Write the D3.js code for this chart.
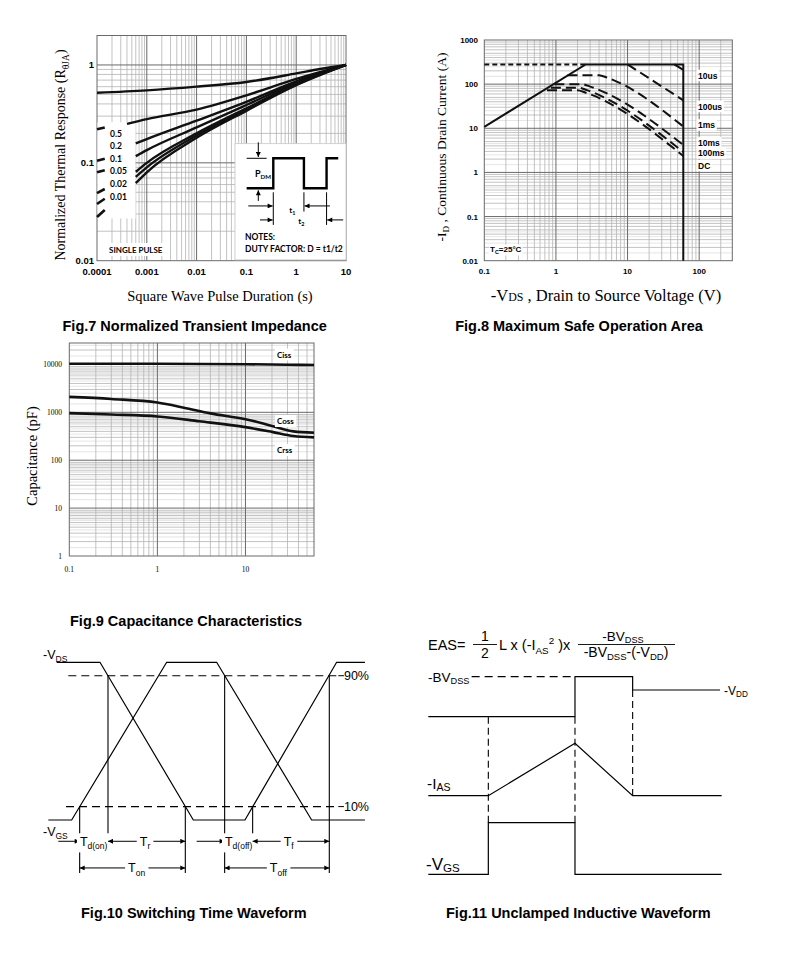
<!DOCTYPE html>
<html>
<head>
<meta charset="utf-8">
<title>MOSFET characteristic curves</title>
<script src="https://cdn.jsdelivr.net/npm/d3@7"></script>
<style>
  body { margin: 0; background: #fff; }
  svg { display: block; }
  .title { font-family: "Liberation Sans", Arial, sans-serif; font-weight: bold; font-size: 14.5px; }
  .tick { font-family: "Liberation Sans", Arial, sans-serif; font-weight: bold; font-size: 8px; }
  .stick { font-family: "Liberation Serif", "Times New Roman", serif; font-size: 7.5px; }
  .serif { font-family: "Liberation Serif", "Times New Roman", serif; font-size: 14.5px; }
  .lbl { font-family: "Liberation Sans", Arial, sans-serif; font-size: 12px; }
  .note { font-family: "Lato", "Liberation Sans", sans-serif; font-weight: bold; font-size: 8px; }
  .wave { fill: none; stroke: #000; stroke-width: 1.2; }
  .curve { fill: none; stroke: #111; stroke-width: 2.6; }
</style>
</head>
<body>
<svg id="page" width="790" height="979"></svg>
<script>
// ---- Fig.7 normalized transient impedance ----
var f7X = [0.0001, 0.001, 0.01, 0.1, 1, 10];
var f7XText = ["0.0001", "0.001", "0.01", "0.1", "1", "10"];
var f7Y = [0.01, 0.1, 1];
var f7YText = ["0.01", "0.1", "1"];
var dutyText = ["0.5", "0.2", "0.1", "0.05", "0.02", "0.01"];
var zthD50 = [[1e-4, 0.52], [1e-3, 0.55], [1e-2, 0.6], [0.1, 0.67], [1, 0.82], [3, 0.91], [10, 1]];
var zthD20 = [[4e-4, 0.25], [1e-3, 0.28], [1e-2, 0.35], [0.1, 0.49], [1, 0.72], [10, 1]];
var zthD10 = [[6e-4, 0.158], [1e-3, 0.175], [1e-2, 0.27], [0.1, 0.42], [1, 0.68], [10, 1]];
var zthD05 = [[6e-4, 0.117], [1e-3, 0.135], [1e-2, 0.23], [0.1, 0.39], [1, 0.66], [10, 1]];
var zthD02 = [[6e-4, 0.081], [1e-3, 0.1], [1e-2, 0.2], [0.1, 0.36], [1, 0.64], [10, 1]];
var zthD01 = [[6e-4, 0.072], [1e-3, 0.09], [1e-2, 0.19], [0.1, 0.35], [1, 0.63], [10, 1]];
var zthSingle = [[6e-4, 0.062], [1e-3, 0.08], [1e-2, 0.18], [0.1, 0.34], [1, 0.62], [10, 1]];
var zthStubs = [[0.22, 0.23], [0.105, 0.11], [0.08, 0.084], [0.049, 0.054], [0.038, 0.043], [0.028, 0.033]];

// ---- Fig.8 safe operating area ----
var f8X = [0.1, 1, 10, 100];
var f8XText = ["0.1", "1", "10", "100"];
var f8Y = [0.01, 0.1, 1, 10, 100, 1000];
var f8YText = ["0.01", "0.1", "1", "10", "100", "1000"];
var soaLimit = [[0.1, 10.8], [2.6, 280], [60, 280], [60, 0.01]];
var soaPkg = [[0.1, 280], [2.6, 280]];
var soa10us = [[45, 280], [60, 210]];
var soa100us = [[10, 280], [60, 43]];
var soa1ms = [[1.45, 160], [4, 160], [5.2, 140], [60, 11]];
var soa10ms = [[0.95, 100], [2.3, 100], [3, 88], [60, 4.2]];
var soa100ms = [[0.85, 83], [2.1, 83], [2.7, 73], [60, 2.9]];
var soaDC = [[0.75, 73], [2.0, 73], [2.6, 64], [60, 2.35]];
var soaText = ["10us", "100us", "1ms", "10ms", "100ms", "DC"];

// ---- Fig.9 capacitance ----
var f9X = [0.1, 1, 10];
var f9XText = ["0.1", "1", "10"];
var f9Y = [1, 10, 100, 1000, 10000];
var f9YText = ["1", "10", "100", "1000", "10000"];
var ciss = [[0.1, 10300], [1, 10300], [10, 10100], [30, 9850], [60, 9700]];
var coss = [[0.1, 2100], [0.3, 1900], [1, 1600], [2, 1250], [4, 950], [10, 720], [20, 520], [35, 400], [60, 375]];
var crss = [[0.1, 960], [0.3, 900], [1, 820], [3, 650], [10, 490], [20, 390], [35, 320], [60, 300]];

// ---- Fig.10 switching waveform (time units, % of swing) ----
var vdsWave = [[8, 100], [21, 100], [49, 0], [64.5, 0], [92, 100], [100.5, 100]];
var vgsWave = [[5.5, 0], [12.5, 0], [41, 100], [56, 100], [84.5, 0], [100.5, 0]];
var swLevels = [91.5, 8.5];
var swLevelText = ["90%", "10%"];
var swMarks = [[14.9, 8.5, -33.6], [23.4, 91.5, -14.6], [46.6, 8.5, -33.6], [58.4, 91.5, -33.6], [66.8, 8.5, -14.6], [89.8, 91.5, -33.6]];

// ---- Fig.11 unclamped inductive waveform ----
var uisVds = [[5.5, 52.5], [49.5, 52.5], [49.5, 64.5], [66.8, 64.5], [66.8, 60.5], [93, 60.5]];
var uisBv = [[18.5, 64.5], [49.5, 64.5]];
var uisIas = [[5.5, 28.8], [23.5, 28.8], [49.5, 44.5], [66.8, 28.8], [93.5, 28.8]];
var uisVgs = [[5.5, 5.2], [23.5, 5.2], [23.5, 20.7], [49.5, 20.7], [49.5, 5.2], [93.5, 5.2]];
var uisMarks = [[23.5, 52.5, 20.7], [49.5, 52.5, 20.7], [66.8, 60.5, 28.8]];

var svg = d3.select('#page');

var defs = svg.append('defs');
function arrowMarker(id, len, wid) {
  defs.append('marker').attr('id', id)
      .attr('viewBox', '0 0 10 10').attr('refX', 10).attr('refY', 5)
      .attr('markerUnits', 'userSpaceOnUse')
      .attr('markerWidth', len).attr('markerHeight', wid)
      .attr('orient', 'auto-start-reverse')
    .append('path').attr('d', 'M0,0 L10,5 L0,10 z').attr('fill', '#000');
}
arrowMarker('arr', 8, 5);
arrowMarker('arrS', 7, 5);

function logMinors(lo, hi, steps) {
  var out = [];
  for (var e = Math.floor(Math.log10(lo)); e < Math.ceil(Math.log10(hi)); e++) {
    steps.forEach(function(s) {
      var v = s * Math.pow(10, e);
      if (v > lo * 1.001 && v < hi * 0.999) out.push(v);
    });
  }
  return out;
}

function hLines(g, x, y, vals, color, w) {
  g.append('g').selectAll('line').data(vals).enter().append('line')
    .attr('x1', x.range()[0]).attr('x2', x.range()[1])
    .attr('y1', d => y(d)).attr('y2', d => y(d))
    .attr('stroke', color).attr('stroke-width', w);
}
function vLines(g, x, y, vals, color, w) {
  g.append('g').selectAll('line').data(vals).enter().append('line')
    .attr('y1', y.range()[0]).attr('y2', y.range()[1])
    .attr('x1', d => x(d)).attr('x2', d => x(d))
    .attr('stroke', color).attr('stroke-width', w);
}

function logGrid(g, x, y, o) {
  var xd = x.domain(), yd = y.domain();
  if (o.yFine) hLines(g, x, y, logMinors(yd[0], yd[1], o.yFine), '#d4d4d4', 0.6);
  hLines(g, x, y, logMinors(yd[0], yd[1], [2, 3, 4, 5, 6, 7, 8, 9]), '#b4b4b4', 0.8);
  vLines(g, x, y, logMinors(xd[0], xd[1], [2, 3, 4, 5, 6, 7, 8, 9]), '#b4b4b4', 0.8);
  hLines(g, x, y, logMinors(yd[0], yd[1], [1]), '#6a6a6a', 1);
  vLines(g, x, y, logMinors(xd[0], xd[1], [1]), '#6a6a6a', 1);
  g.append('rect')
    .attr('x', x.range()[0]).attr('y', y.range()[1])
    .attr('width', x.range()[1] - x.range()[0]).attr('height', y.range()[0] - y.range()[1])
    .attr('fill', 'none').attr('stroke', '#6a6a6a').attr('stroke-width', 1);
}

// text with sub/superscript pieces: [text, mode] where mode 's' = sub, 'p' = super, 'm' = small same baseline
function rich(g, x, y, parts, cls, size, anchor, subDrop) {
  var t = g.append('text').attr('class', cls).attr('x', x).attr('y', y)
    .attr('text-anchor', anchor || 'start').style('font-size', size + 'px');
  var shift = 0;
  var drop = subDrop === undefined ? 0.25 : subDrop;
  parts.forEach(function(p) {
    var sp = t.append('tspan').text(p[0]);
    var want = 0;
    if (p[1] === 's') { want = size * drop; sp.style('font-size', (size * 0.68) + 'px'); }
    else if (p[1] === 'p') { want = -size * 0.4; sp.style('font-size', (size * 0.68) + 'px'); }
    else if (p[1] === 'm') { sp.style('font-size', (size * 0.72) + 'px'); }
    if (want !== shift) { sp.attr('dy', want - shift); shift = want; }
  });
  return t;
}

function whiteBehind(g, textSel, pad) {
  var b = textSel.node().getBBox();
  g.insert('rect', function() { return textSel.node(); })
    .attr('x', b.x - pad).attr('y', b.y - pad * 0.5)
    .attr('width', b.width + 2 * pad).attr('height', b.height + pad)
    .attr('fill', '#fff');
}

// =================== Fig.7 ===================
(function() {
  var g = svg.append('g');
  var x = d3.scaleLog().domain([1e-4, 10]).range([97, 346]);
  var y = d3.scaleLog().domain([0.01, 2]).range([260.7, 35.5]);
  logGrid(g, x, y, {});

  var line = d3.line().x(d => x(d[0])).y(d => y(d[1])).curve(d3.curveMonotoneX);

  // label box and stubs at left
  g.append('rect').attr('x', x(1e-4) + 0.5).attr('y', y(0.26))
    .attr('width', x(5.8e-4) - x(1e-4)).attr('height', y(0.027) - y(0.26)).attr('fill', '#fff');
  g.selectAll('.stub').data(zthStubs).enter().append('line')
    .attr('x1', x(1e-4)).attr('x2', x(1.43e-4))
    .attr('y1', d => y(d[0])).attr('y2', d => y(d[1]))
    .attr('stroke', '#111').attr('stroke-width', 2.6);
  g.selectAll('.duty').data(dutyText).enter().append('text')
    .attr('class', 'note').attr('x', 110).attr('y', (d, i) => 136.5 + i * 12.6)
    .style('font-size', '8.5px').text(d => d);

  [zthD50, zthD20, zthD10, zthD05, zthD02, zthD01, zthSingle].forEach(function(s) {
    g.append('path').attr('class', 'curve').attr('d', line(s)).style('stroke-width', 2.4);
  });

  var sp = g.append('text').attr('class', 'note').attr('x', 109).attr('y', 252.5).text('SINGLE PULSE');
  whiteBehind(g, sp, 3);

  // inset with pulse sketch
  var ix = d3.scaleLinear().domain([0, 10]).range([230, 263.3]);
  var iy = d3.scaleLinear().domain([0, 10]).range([135, 168.3]);
  g.append('rect').attr('x', ix(1.5)).attr('y', iy(2.6)).attr('width', 346 - ix(1.5)).attr('height', iy(37.5) - iy(2.6))
    .attr('fill', '#fff').attr('stroke', '#c8c8c8').attr('stroke-width', 0.8);
  var pulse = [[5, 16], [13, 16], [13, 7], [22.2, 7], [22.2, 16], [29, 16], [29, 7], [32.5, 7]];
  g.append('path').attr('fill', 'none').attr('stroke', '#000').attr('stroke-width', 2.4)
    .attr('d', d3.line().x(d => ix(d[0])).y(d => iy(d[1]))(pulse));
  var thin = function(a, b, c, d, m) {
    var l = g.append('line').attr('x1', ix(a)).attr('y1', iy(b)).attr('x2', ix(c)).attr('y2', iy(d))
      .attr('stroke', '#000').attr('stroke-width', 1);
    if (m) l.attr('marker-end', 'url(#arrS)');
  };
  thin(8.5, 2.2, 8.5, 6.6, true);
  thin(5, 7, 11, 7);
  thin(8.5, 19.8, 8.5, 16.6, true);
  thin(13, 17.2, 13, 27);
  thin(22.2, 17.2, 22.2, 23);
  thin(29, 17.2, 29, 27);
  thin(5.5, 21.3, 12.8, 21.3, true);
  thin(30, 21.3, 22.4, 21.3, true);
  thin(9, 25.5, 12.8, 25.5, true);
  thin(34, 25.5, 29.2, 25.5, true);
  rich(g, ix(7.5), iy(12.5), [['P'], ['DM', 's']], 'note', 9);
  rich(g, ix(17.8), iy(23.3), [['t'], ['1', 's']], 'note', 8);
  rich(g, ix(20.5), iy(26.6), [['t'], ['2', 's']], 'note', 8);
  g.append('text').attr('class', 'note').attr('x', ix(4.5)).attr('y', iy(31.5)).style('font-size', '8.5px').text('NOTES:');
  g.append('text').attr('class', 'note').attr('x', ix(4.5)).attr('y', iy(35)).style('font-size', '8.5px').text('DUTY FACTOR: D = t1/t2');

  g.selectAll('.xt').data(f7X).enter().append('text').attr('class', 'tick')
    .attr('x', d => x(d)).attr('y', 275).attr('text-anchor', 'middle').style('font-size', '9.5px')
    .text((d, i) => f7XText[i]);
  g.selectAll('.yt').data(f7Y).enter().append('text').attr('class', 'tick')
    .attr('x', 94).attr('y', d => y(d) + 3.5).attr('text-anchor', 'end').style('font-size', '9.5px')
    .text((d, i) => f7YText[i]);

  rich(g, 220, 301, [['Square Wave Pulse Duration (s)']], 'serif', 14.5, 'middle');
  rich(g, 0, 0, [['Normalized Thermal Response (R'], ['\u03b8JA', 's'], [')']], 'serif', 14, 'middle')
    .attr('transform', 'translate(65,155) rotate(-90)');

  g.append('text').attr('class', 'title').attr('x', 62.5).attr('y', 330.5).text('Fig.7 Normalized Transient Impedance');
})();

// =================== Fig.8 ===================
(function() {
  var g = svg.append('g');
  var x = d3.scaleLog().domain([0.1, 290]).range([484.3, 732.3]);
  var y = d3.scaleLog().domain([0.01, 1000]).range([260.7, 40]);
  logGrid(g, x, y, { yFine: [1.5, 2.5, 3.5, 4.5] });

  var line = d3.line().x(d => x(d[0])).y(d => y(d[1]));
  var dashed = [soa10us, soa100us, soa1ms, soa10ms, soa100ms, soaDC];
  dashed.forEach(function(s) {
    g.append('path').attr('class', 'curve').attr('d', line.curve(d3.curveMonotoneX)(s))
      .style('stroke-width', 2).attr('stroke-dasharray', '10,5');
  });
  g.append('path').attr('class', 'curve').attr('d', line.curve(d3.curveLinear)(soaPkg))
    .style('stroke-width', 2).attr('stroke-dasharray', '5,3');
  g.append('path').attr('class', 'curve').attr('d', line.curve(d3.curveLinear)(soaLimit)).style('stroke-width', 2);

  var ly = [78.5, 109.5, 128, 145.5, 156, 168.5];
  soaText.forEach(function(t, i) {
    var tx = g.append('text').attr('class', 'tick').attr('x', 698).attr('y', ly[i]).style('font-size', '8.5px').text(t);
    whiteBehind(g, tx, 1.5);
  });
  var tc = rich(g, 490, 252, [['T'], ['C', 's'], ['=25\u00b0C']], 'tick', 8);
  whiteBehind(g, tc, 1);

  g.selectAll('.xt').data(f8X).enter().append('text').attr('class', 'tick')
    .attr('x', d => x(d)).attr('y', 274).attr('text-anchor', 'middle')
    .text((d, i) => f8XText[i]);
  g.selectAll('.yt').data(f8Y).enter().append('text').attr('class', 'tick')
    .attr('x', 478).attr('y', d => y(d) + 3).attr('text-anchor', 'end')
    .text((d, i) => f8YText[i]);

  rich(g, 606, 301, [['-V'], ['DS', 'm'], [' , Drain to Source Voltage (V)']], 'serif', 16.5, 'middle');
  rich(g, 0, 0, [['-I'], ['D', 's'], [' , Continuous Drain Current (A)']], 'serif', 13.5, 'middle')
    .attr('transform', 'translate(446,147) rotate(-90)');

  g.append('text').attr('class', 'title').attr('x', 579).attr('y', 330.5).attr('text-anchor', 'middle')
    .text('Fig.8 Maximum Safe Operation Area');
})();

// =================== Fig.9 ===================
(function() {
  var g = svg.append('g');
  var x = d3.scaleLog().domain([0.1, 60]).range([69.3, 314]);
  var y = d3.scaleLog().domain([1, 28000]).range([556, 343]);
  logGrid(g, x, y, { yFine: [1.5, 2.5, 3.5, 4.5, 5.5, 6.5, 7.5, 8.5] });

  var line = d3.line().x(d => x(d[0])).y(d => y(d[1])).curve(d3.curveMonotoneX);
  [ciss, coss, crss].forEach(function(s) {
    g.append('path').attr('class', 'curve').attr('d', line(s)).style('stroke-width', 2.6);
  });

  var lab = [['Ciss', 357.5], ['Coss', 424], ['Crss', 453]];
  lab.forEach(function(l) {
    var tx = g.append('text').attr('class', 'note').attr('x', 277).attr('y', l[1]).text(l[0]);
    whiteBehind(g, tx, 2);
  });

  g.selectAll('.xt').data(f9X).enter().append('text').attr('class', 'stick')
    .attr('x', d => x(d)).attr('y', 572).attr('text-anchor', 'middle')
    .text((d, i) => f9XText[i]);
  g.selectAll('.yt').data(f9Y).enter().append('text').attr('class', 'stick')
    .attr('x', 62).attr('y', d => y(d) + 2.5).attr('text-anchor', 'end')
    .text((d, i) => f9YText[i]);

  rich(g, 0, 0, [['Capacitance (pF)']], 'serif', 14.5, 'middle')
    .attr('transform', 'translate(37,456) rotate(-90)');

  g.append('text').attr('class', 'title').attr('x', 70).attr('y', 626).text('Fig.9 Capacitance Characteristics');
})();

// =================== Fig.10 ===================
(function() {
  var g = svg.append('g');
  var x = d3.scaleLinear().domain([0, 100]).range([30, 363.3]);
  var y = d3.scaleLinear().domain([0, 100]).range([820, 662.3]);
  var line = d3.line().x(d => x(d[0])).y(d => y(d[1]));

  g.selectAll('.lev').data(swLevels).enter().append('line')
    .attr('x1', (d, i) => x(i ? 10.8 : 11.5)).attr('x2', x(92.5))
    .attr('y1', d => y(d)).attr('y2', d => y(d))
    .attr('stroke', '#000').attr('stroke-width', 1.1).attr('stroke-dasharray', '8,5');
  g.selectAll('.levt').data(swLevels).enter().append('line')
    .attr('x1', x(92.5)).attr('x2', x(94.2))
    .attr('y1', d => y(d)).attr('y2', d => y(d)).attr('stroke', '#000').attr('stroke-width', 1);
  g.selectAll('.levl').data(swLevels).enter().append('text').attr('class', 'lbl')
    .attr('x', x(94.2)).attr('y', d => y(d) + 4.5).style('font-size', '12.5px')
    .text((d, i) => swLevelText[i]);

  g.append('path').attr('class', 'wave').attr('d', line(vdsWave));
  g.append('path').attr('class', 'wave').attr('d', line(vgsWave));

  g.selectAll('.mk').data(swMarks).enter().append('line')
    .attr('x1', d => x(d[0])).attr('x2', d => x(d[0]))
    .attr('y1', d => y(d[1])).attr('y2', d => y(d[2]))
    .attr('stroke', '#000').attr('stroke-width', 1.1);

  var r1 = y(-13.5), r2 = y(-30.4);
  function arrow(a, b, yy, both) {
    var l = g.append('line').attr('x1', x(a)).attr('x2', x(b)).attr('y1', yy).attr('y2', yy)
      .attr('stroke', '#000').attr('stroke-width', 1).attr('marker-end', 'url(#arr)');
    if (both) l.attr('marker-start', 'url(#arr)');
  }
  function dimText(cx, yy, sub) {
    var t = rich(g, x(cx), yy + 4.5, [['T'], [sub, 's']], 'lbl', 12.5, 'middle');
    whiteBehind(g, t, 3);
  }
  arrow(8.5, 14.9, r1, false);
  dimText(19.1, r1, 'd(on)');
  arrow(23.4, 46.6, r1, true);
  dimText(34.5, r1, 'r');
  arrow(50, 58.4, r1, false);
  dimText(62.6, r1, 'd(off)');
  arrow(66.8, 89.8, r1, true);
  dimText(77.6, r1, 'f');
  arrow(14.9, 46.6, r2, true);
  dimText(32, r2, 'on');
  arrow(58.4, 89.8, r2, true);
  dimText(74.5, r2, 'off');

  rich(g, 43, 658.5, [['-V'], ['DS', 's']], 'lbl', 12.5);
  rich(g, 43, 835.5, [['-V'], ['GS', 's']], 'lbl', 12.5);

  g.append('text').attr('class', 'title').attr('x', 81).attr('y', 918).text('Fig.10 Switching Time Waveform');
})();

// =================== Fig.11 ===================
(function() {
  var g = svg.append('g');
  var x = d3.scaleLinear().domain([0, 100]).range([410, 743.3]);
  var y = d3.scaleLinear().domain([0, 100]).range([891.7, 558.3]);
  var line = d3.line().x(d => x(d[0])).y(d => y(d[1]));

  g.append('path').attr('class', 'wave').attr('d', line(uisBv)).attr('stroke-dasharray', '8,5');
  g.selectAll('.mk').data(uisMarks).enter().append('line')
    .attr('x1', d => x(d[0])).attr('x2', d => x(d[0]))
    .attr('y1', d => y(d[1])).attr('y2', d => y(d[2]))
    .attr('stroke', '#000').attr('stroke-width', 1.1).attr('stroke-dasharray', '7,4');
  [uisVds, uisIas, uisVgs].forEach(function(s) {
    g.append('path').attr('class', 'wave').attr('d', line(s));
  });

  rich(g, 428, 681.5, [['-BV'], ['DSS', 's']], 'lbl', 13.5, 'start', 0.18);
  rich(g, 724, 695, [['-V'], ['DD', 's']], 'lbl', 12, 'start', 0.18);
  rich(g, 427, 789, [['-I'], ['AS', 's']], 'lbl', 15.5, 'start', 0.15);
  rich(g, 426, 869.5, [['-V'], ['GS', 's']], 'lbl', 17, 'start', 0.12);

  // formula
  rich(g, 428, 650, [['EAS=']], 'lbl', 14.5);
  rich(g, 485, 641, [['1']], 'lbl', 14, 'middle');
  rich(g, 485, 657.5, [['2']], 'lbl', 14, 'middle');
  g.append('line').attr('x1', 473).attr('x2', 497).attr('y1', 644.5).attr('y2', 644.5).attr('stroke', '#000').attr('stroke-width', 0.9);
  rich(g, 499, 650, [['L x (-I'], ['AS', 's'], ['2', 'p'], [' )x']], 'lbl', 14.5);
  g.append('line').attr('x1', 578).attr('x2', 675).attr('y1', 644.5).attr('y2', 644.5).attr('stroke', '#000').attr('stroke-width', 0.9);
  rich(g, 623, 640.5, [['-BV'], ['DSS', 's']], 'lbl', 13.5, 'middle', 0.18);
  rich(g, 626, 657, [['-BV'], ['DSS', 's'], ['-(-V'], ['DD', 's'], [')']], 'lbl', 14, 'middle', 0.18);

  g.append('text').attr('class', 'title').attr('x', 446).attr('y', 918).text('Fig.11 Unclamped Inductive Waveform');
})();
</script>
</body>
</html>
